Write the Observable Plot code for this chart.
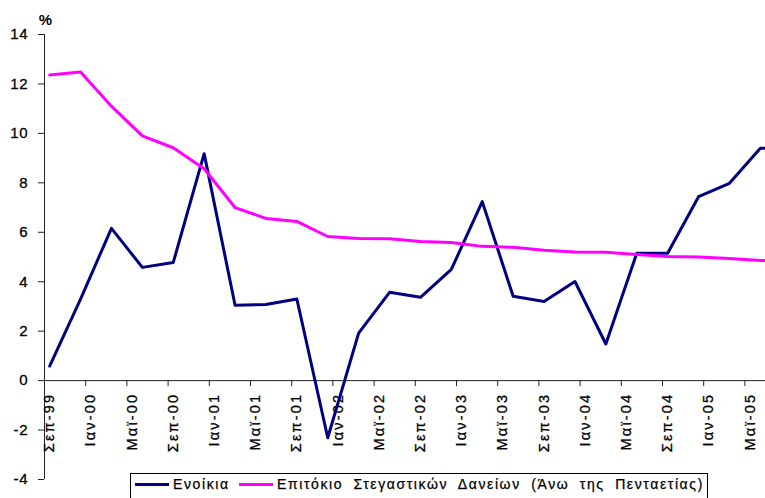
<!DOCTYPE html>
<html>
<head>
<meta charset="utf-8">
<script src="https://cdn.jsdelivr.net/npm/d3@7"></script>
<script src="https://cdn.jsdelivr.net/npm/@observablehq/plot@0.6"></script>
<style>
  html, body { margin: 0; padding: 0; background: #fff; }
  #wrap { position: relative; width: 765px; height: 498px; overflow: hidden; font-family: "Liberation Sans", Arial, sans-serif; }
  #legend { position: absolute; left: 130px; top: 473px; width: 576px; height: 40px; border: 1px solid #000; background: #fff;
            font-family: "Liberation Sans", Arial, sans-serif; font-size: 14px; letter-spacing: 1.6px; color: #000;
            -webkit-text-stroke: 0.25px #000; }
  #legend .item { position: absolute; top: 2px; display: flex; align-items: center; white-space: nowrap; }
  #legend .sw { display: inline-block; width: 34px; height: 3px; margin-right: 4px; }
</style>
</head>
<body>
<div id="wrap"></div>
<script>
// ---- data ----
const tickLabels = ["Σεπ-99","Ιαν-00","Μαϊ-00","Σεπ-00","Ιαν-01","Μαϊ-01","Σεπ-01","Ιαν-02","Μαϊ-02","Σεπ-02","Ιαν-03","Μαϊ-03","Σεπ-03","Ιαν-04","Μαϊ-04","Σεπ-04","Ιαν-05","Μαϊ-05"];
const quarters = ["Σεπ-99","Δεκ-99","Μαρ-00","Ιουν-00","Σεπ-00","Δεκ-00","Μαρ-01","Ιουν-01","Σεπ-01","Δεκ-01","Μαρ-02","Ιουν-02","Σεπ-02","Δεκ-02","Μαρ-03","Ιουν-03","Σεπ-03","Δεκ-03","Μαρ-04","Ιουν-04","Σεπ-04","Δεκ-04","Μαρ-05","Ιουν-05","Σεπ-05"];
const rents = [0.59, 3.3, 6.16, 4.58, 4.78, 9.18, 3.05, 3.08, 3.3, -2.31, 1.92, 3.57, 3.37, 4.5, 7.24, 3.41, 3.2, 4.01, 1.48, 5.15, 5.15, 7.44, 7.98, 9.4, 9.4];
const mortgageRate = [12.36, 12.48, 11.1, 9.9, 9.42, 8.57, 7.0, 6.56, 6.44, 5.83, 5.75, 5.74, 5.63, 5.59, 5.43, 5.39, 5.27, 5.2, 5.19, 5.1, 5.02, 5.0, 4.94, 4.86, 4.83];
const yTicks = [-4, -2, 0, 2, 4, 6, 8, 10, 12, 14];
const seriesNames = ["Ενοίκια", "Επιτόκιο Στεγαστικών Δανείων (Άνω της Πενταετίας)"];
const seriesColors = ["#000080", "#ff00ff"];
const yUnit = "%";

// ---- helpers ----
const monthNum = {"Ιαν":1,"Φεβ":2,"Μαρ":3,"Απρ":4,"Μαϊ":5,"Ιουν":6,"Ιουλ":7,"Αυγ":8,"Σεπ":9,"Οκτ":10,"Νοε":11,"Δεκ":12};
function monthIndex(s) {
  const [m, y] = s.split("-");
  const yy = +y;
  const year = yy > 50 ? 1900 + yy : 2000 + yy;
  return (year - 1999) * 12 + monthNum[m] - 9;
}
const labelRows = tickLabels.map(l => ({label: l, i: monthIndex(l)}));
const boundaries = labelRows.map(d => d.i - 0.5);
const rentRows = quarters.map((q, k) => ({i: monthIndex(q), v: rents[k]}));
const rateRows = quarters.map((q, k) => ({i: monthIndex(q), v: mortgageRate[k]}));

const chart = Plot.plot({
  width: 765,
  height: 498,
  marginLeft: 44,
  marginRight: 0,
  marginTop: 34,
  marginBottom: 19,
  style: {fontFamily: "Liberation Sans, Arial, sans-serif", color: "#000", background: "#fff", overflow: "visible"},
  x: {domain: [-0.5, 69.5], axis: null},
  y: {domain: [-4, 14], axis: null},
  marks: [
    Plot.ruleX([-0.5], {stroke: "#222", strokeWidth: 1}),
    Plot.ruleY([0], {stroke: "#222", strokeWidth: 1}),
    Plot.ruleX(boundaries, {x: d => d, y1: 0, y2: 0, insetTop: 0, insetBottom: -6, stroke: "#222"}),
    Plot.axisY({ticks: yTicks, label: null, tickSize: 6, tickPadding: 10, fontSize: 15, tickFormat: d => String(d), stroke: "#222", fill: "#000"}),
    Plot.text(labelRows, {x: "i", y: 0, text: "label", rotate: -90, textAnchor: "end", dy: 12, fontSize: 14.5, fill: "#000"}),
    Plot.line(rentRows, {x: "i", y: "v", stroke: seriesColors[0], strokeWidth: 3, clip: true}),
    Plot.line(rateRows, {x: "i", y: "v", stroke: seriesColors[1], strokeWidth: 3, clip: true}),
    Plot.text([yUnit], {frameAnchor: "top-left", text: d => d, dx: 1, dy: -10, textAnchor: "middle", lineAnchor: "bottom", fontSize: 15, fontWeight: "bold", fill: "#000"})
  ]
});
const wrap = document.getElementById("wrap");
wrap.appendChild(chart);

// text weight / spacing tweaks (match the heavier, wider rendering of the original)
d3.select(chart).selectAll("text").each(function() {
  const t = this.textContent;
  if (tickLabels.includes(t)) {
    this.style.letterSpacing = "2.2px";
    this.style.stroke = "#000";
    this.style.strokeWidth = "0.3px";
  } else if (yTicks.map(String).includes(t)) {
    this.style.letterSpacing = "0.8px";
    this.style.stroke = "#000";
    this.style.strokeWidth = "0.3px";
  }
});

const legend = document.createElement("div");
legend.id = "legend";
const lefts = [4, 108];
seriesNames.forEach((name, k) => {
  const it = document.createElement("div");
  it.className = "item";
  it.style.left = lefts[k] + "px";
  if (k === 1) it.style.wordSpacing = "5px";
  const sw = document.createElement("span");
  sw.className = "sw";
  sw.style.background = seriesColors[k];
  const tx = document.createElement("span");
  tx.textContent = name;
  it.appendChild(sw);
  it.appendChild(tx);
  legend.appendChild(it);
});
wrap.appendChild(legend);
</script>
</body>
</html>
